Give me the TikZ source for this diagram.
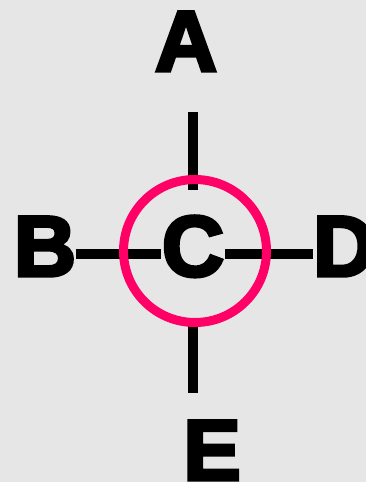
\documentclass[tikz,border=0pt]{standalone}
\usepackage{fontspec}
\setmainfont{Liberation Sans}[BoldFeatures={FakeBold=4}]
\usetikzlibrary{calc}
\definecolor{bggrey}{HTML}{E6E6E6}
\definecolor{ringpink}{HTML}{FF0066}

\begin{document}
\begin{tikzpicture}[x=1pt, y=-1pt,
    letter/.style={inner sep=0pt, text height=62pt, text depth=18pt, font=\bfseries\fontsize{86}{86}\selectfont},
    hub/.style={letter, minimum width=64pt, minimum height=128pt},
    bar/.style={draw=black, line width=10.5pt},
    ring/.style={draw=ringpink, line width=9pt}
  ]
    \fill[bggrey] (0,0) rectangle (366,482);
    \useasboundingbox (0,0) rectangle (366,482);
    \node[hub] (C) at (193, 254) {C};
    \node[letter, anchor=base] (A) at (186, 71) {A};
    \node[letter, anchor=base] (B) at (45, 276) {B};
    \node[letter, anchor=base west] (D) at (313, 276) {D};
    \node[letter, anchor=base] (E) at (212, 480) {E};
    \draw[bar] (B) -- (C);
    \draw[bar] (C) -- (D);
    \draw[bar, shorten >=23pt] (C) -- (C |- A.south);
    \draw[bar, shorten >=25pt] (C) -- (C |- E.north);
    \draw[ring] ([shift={(2,-3)}]C.center) circle[radius=71.5];
  \end{tikzpicture}
\end{document}
